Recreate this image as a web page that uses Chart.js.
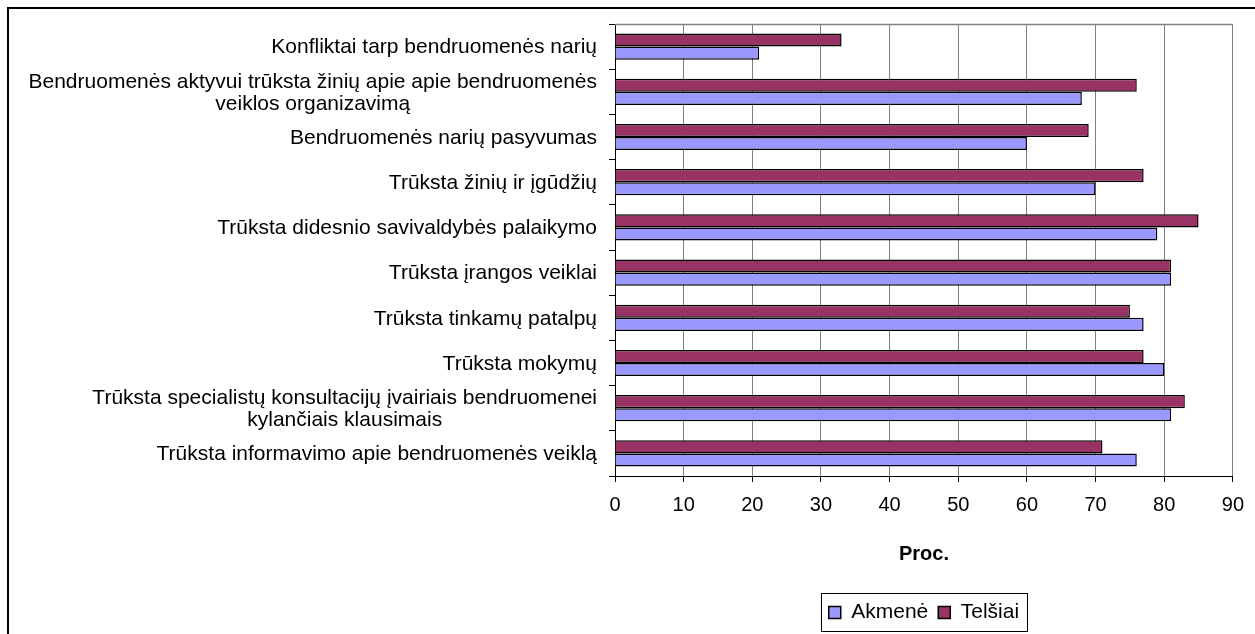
<!DOCTYPE html>
<html>
<head>
<meta charset="utf-8">
<script src="https://cdn.jsdelivr.net/npm/chart.js@4/dist/chart.umd.min.js"></script>
<style>
    html, body { margin: 0; padding: 0; background: #fff; overflow: hidden; }
    #frame { position: absolute; left: 7px; top: 7px; width: 1400px; height: 800px;
             border-top: 2px solid #000; border-left: 2px solid #000; }
    #wrap { position: absolute; left: 0; top: 0; width: 1255px; height: 634px; }
</style>
</head>
<body>
<div id="frame"></div>
<div id="wrap"><canvas id="barChart"></canvas></div>
<script>
const categories = [
    'Konfliktai tarp bendruomenės narių',
    ['Bendruomenės aktyvui trūksta žinių apie apie bendruomenės', 'veiklos organizavimą'],
    'Bendruomenės narių pasyvumas',
    'Trūksta žinių ir įgūdžių',
    'Trūksta didesnio savivaldybės palaikymo',
    'Trūksta įrangos veiklai',
    'Trūksta tinkamų patalpų',
    'Trūksta mokymų',
    ['Trūksta specialistų konsultacijų įvairiais bendruomenei', 'kylančiais klausimais'],
    'Trūksta informavimo apie bendruomenės veiklą'
];
const telsiai = [33, 76, 69, 77, 85, 81, 75, 77, 83, 71];
const akmene = [21, 68, 60, 70, 79, 81, 77, 80, 81, 76];
const xTicks = [0, 10, 20, 30, 40, 50, 60, 70, 80, 90];

const fontFamily = '"Liberation Sans", Arial, sans-serif';

// y labels drawn by hand so wrapped lines are centred like in Excel
const categoryLabels = {
    id: 'categoryLabels',
    afterDraw(chart) {
        const scale = chart.scales.y;
        const ctx = chart.ctx;
        ctx.save();
        ctx.font = '21px ' + fontFamily;
        ctx.fillStyle = '#000';
        ctx.textAlign = 'center';
        ctx.textBaseline = 'middle';
        const rightX = chart.chartArea.left - 18;
        categories.forEach((label, i) => {
            const lines = Array.isArray(label) ? label : [label];
            const maxW = Math.max(...lines.map(l => ctx.measureText(l).width));
            const y = scale.getPixelForTick(i) + 1;
            lines.forEach((line, j) => {
                ctx.fillText(line, rightX - maxW / 2, y + (j - (lines.length - 1) / 2) * 22);
            });
        });
        ctx.restore();
    }
};

// grey top edge of the plot area and the box round the legend
const frameBits = {
    id: 'frameBits',
    beforeDatasetsDraw(chart) {
        const { ctx, chartArea } = chart;
        ctx.save();
        ctx.strokeStyle = '#808080';
        ctx.lineWidth = 1.5;
        ctx.beginPath();
        ctx.moveTo(chartArea.left, chartArea.top + 0.5);
        ctx.lineTo(chartArea.right, chartArea.top + 0.5);
        ctx.stroke();
        ctx.restore();
    },
    afterDraw(chart) {
        const legend = chart.legend;
        if (!legend || !legend.legendHitBoxes.length) return;
        const boxes = legend.legendHitBoxes;
        const left = Math.min(...boxes.map(b => b.left)) - 8;
        const right = Math.max(...boxes.map(b => b.left + b.width)) + 8;
        const ctx = chart.ctx;
        ctx.save();
        ctx.strokeStyle = '#000';
        ctx.lineWidth = 1;
        ctx.strokeRect(Math.round(left) + 0.5, Math.round(legend.top) + 1.5,
            Math.round(right - left), Math.round(legend.height) - 3);
        ctx.restore();
    }
};

const ctx = document.getElementById('barChart').getContext('2d');
new Chart(ctx, {
    type: 'bar',
    data: {
        labels: categories,
        datasets: [
            {
                label: 'Telšiai',
                data: telsiai,
                backgroundColor: '#993366',
                borderColor: '#000',
                borderWidth: 1.5,
                categoryPercentage: 0.58,
                barPercentage: 1
            },
            {
                label: 'Akmenė',
                data: akmene,
                backgroundColor: '#9999FF',
                borderColor: '#000',
                borderWidth: 1.5,
                categoryPercentage: 0.58,
                barPercentage: 1
            }
        ]
    },
    options: {
        indexAxis: 'y',
        responsive: true,
        maintainAspectRatio: false,
        animation: false,
        layout: {
            padding: { top: 24, right: 21, bottom: 1, left: 0 }
        },
        scales: {
            x: {
                min: 0,
                max: 90,
                afterBuildTicks: scale => {
                    scale.ticks = xTicks.map(v => ({ value: v }));
                },
                grid: {
                    color: '#808080',
                    tickColor: '#000',
                    tickLength: 6
                },
                border: { color: '#000', width: 1 },
                ticks: {
                    color: '#000',
                    padding: 11,
                    maxRotation: 0,
                    font: { family: fontFamily, size: 20 }
                },
                title: {
                    display: true,
                    text: 'Proc.',
                    color: '#000',
                    font: { family: fontFamily, size: 20, weight: 'bold' },
                    padding: { top: 14, bottom: 26 }
                }
            },
            y: {
                afterFit: scale => { scale.width = 615; },
                grid: {
                    drawOnChartArea: false,
                    offset: true,
                    tickColor: '#000',
                    tickLength: 6
                },
                border: { color: '#000', width: 1 },
                ticks: { display: false }
            }
        },
        plugins: {
            legend: {
                position: 'bottom',
                fullSize: false,
                reverse: true,
                labels: {
                    color: '#000',
                    boxWidth: 12,
                    boxHeight: 12,
                    padding: 10,
                    font: { family: fontFamily, size: 21 }
                }
            },
            tooltip: { enabled: false }
        }
    },
    plugins: [categoryLabels, frameBits]
});
</script>
</body>
</html>
